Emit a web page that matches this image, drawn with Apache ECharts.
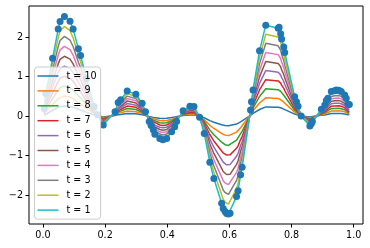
<!DOCTYPE html>
<html>
<head>
<meta charset="utf-8">
<script src="https://cdn.jsdelivr.net/npm/echarts@6/dist/echarts.min.js"></script>
<style>
html,body{margin:0;padding:0;background:#fff;}
#c{width:370px;height:248px;}
</style>
</head>
<body>
<div id="c"></div>
<script>
// Sample x positions (sorted) and observed values (scatter points)
const xs = [0.004,0.009,0.031,0.049,0.055,0.069,0.087,0.097,0.114,0.121,0.140,0.165,0.176,0.194,
  0.232,0.242,0.250,0.271,0.299,0.319,0.330,0.342,0.348,0.355,0.360,0.376,0.386,0.398,0.414,0.424,0.430,
  0.451,0.473,0.486,0.504,0.519,0.537,0.550,0.575,0.580,0.586,0.591,0.597,0.602,0.623,0.628,0.636,0.641,
  0.668,0.671,0.676,0.697,0.717,0.757,0.760,0.765,0.768,0.775,0.778,0.810,0.816,0.821,0.831,
  0.859,0.864,0.867,0.896,0.907,0.912,0.917,0.928,0.939,0.944,0.952,0.960,0.971,0.976,0.982,0.986];
const ys = [0.19,0.57,1.46,2.20,2.39,2.52,2.40,2.20,1.70,1.53,0.95,0.24,0.03,-0.23,
  0.11,0.34,0.41,0.63,0.55,0.32,0.11,-0.14,-0.24,-0.35,-0.46,-0.57,-0.60,-0.57,-0.40,-0.27,-0.14,
  0.13,0.25,0.24,-0.03,-0.44,-1.17,-1.58,-2.21,-2.34,-2.42,-2.47,-2.48,-2.46,-2.04,-1.89,-1.49,-1.30,
  0.15,0.36,0.66,1.65,2.30,2.22,2.25,2.08,1.95,1.75,1.61,0.49,0.36,0.25,0.00,
  -0.25,-0.19,-0.14,0.17,0.28,0.39,0.45,0.62,0.64,0.66,0.65,0.62,0.53,0.45,0.30,0.29];
// Line series names and their observed amplitude relative to the scatter
const seriesNames = ['t = 10','t = 9','t = 8','t = 7','t = 6','t = 5','t = 4','t = 3','t = 2','t = 1'];
const seriesScale = [0.1,0.2,0.3,0.4,0.5,0.6,0.7,0.8,0.9,1.0];
const colors = ['#1f77b4','#ff7f0e','#2ca02c','#d62728','#9467bd','#8c564b','#e377c2','#7f7f7f','#bcbd22','#17becf'];
const xTicks = [0,0.2,0.4,0.6,0.8,1.0];
const yTicks = [-2,-1,0,1,2];

const font = 'DejaVu Sans';
const series = seriesNames.map((n,i)=>({
  name:n, type:'line', showSymbol:false, symbol:'none', z:2,
  lineStyle:{width:1.5,color:colors[i]}, itemStyle:{color:colors[i]},
  data: xs.map((x,k)=>[x, ys[k]*seriesScale[i]])
}));
series.push({
  name:'pts', type:'scatter', symbolSize:7, z:3,
  itemStyle:{color:'#1f77b4',opacity:1},
  data: xs.map((x,k)=>[x, ys[k]])
});

const fmt = v => {
  const s = (Math.abs(v) < 1e-9) ? '0' : String(v);
  return s.replace('-', '\u2212');
};

const chart = echarts.init(document.getElementById('c'), null, {renderer:'canvas'});
chart.setOption({
  animation:false,
  backgroundColor:'#fff',
  color: colors,
  grid:{left:29, right:7, top:6, bottom:24, show:true, borderColor:'#000', borderWidth:1, backgroundColor:'transparent'},
  xAxis:{type:'value', min:-0.045, max:1.030,
    axisLine:{show:false, onZero:false},
    splitLine:{show:false},
    axisTick:{show:true, inside:false, length:3.5, lineStyle:{color:'#000',width:1}, customValues:xTicks},
    axisLabel:{show:true, margin:6, color:'#000', fontFamily:font, fontSize:9.6, customValues:xTicks,
      formatter: v => Number(v).toFixed(1)}
  },
  yAxis:{type:'value', min:-2.734, max:2.785,
    axisLine:{show:false, onZero:false},
    splitLine:{show:false},
    axisTick:{show:true, inside:false, length:3.5, lineStyle:{color:'#000',width:1}, customValues:yTicks},
    axisLabel:{show:true, margin:6, color:'#000', fontFamily:font, fontSize:9.6, customValues:yTicks,
      formatter: v => fmt(Math.round(v))}
  },
  legend:{
    data: seriesNames, orient:'vertical', left:34.5, top:67,
    icon:'rect', itemWidth:21, itemHeight:1.5, itemGap:2.9,
    padding:[3,4,3,3],
    backgroundColor:'rgba(255,255,255,0.8)', borderColor:'#cccccc', borderWidth:1, borderRadius:3,
    textStyle:{fontFamily:font, fontSize:9.6, color:'#000', lineHeight:12, padding:[0,0,0,3]},
    z:10, zlevel:0, selectedMode:false
  },
  series: series
});
</script>
</body>
</html>
